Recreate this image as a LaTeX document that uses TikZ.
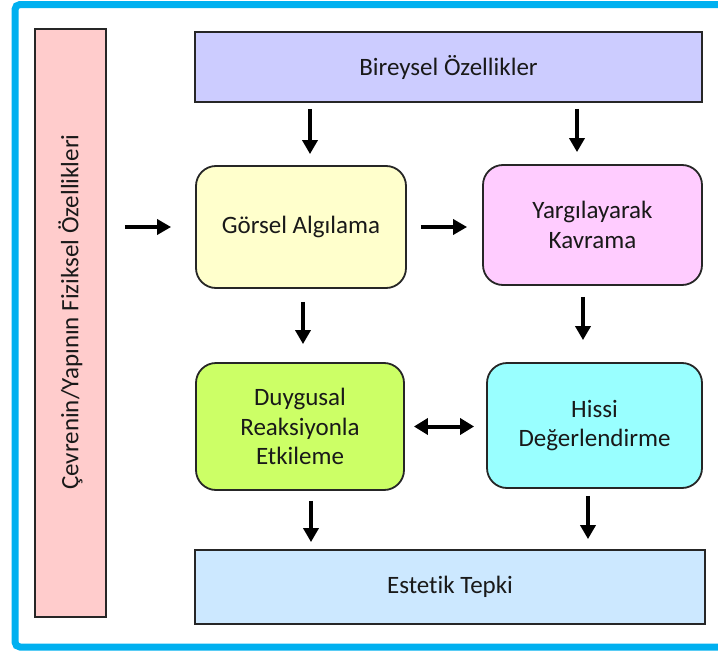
\documentclass[tikz,border=0pt]{standalone}
\usepackage{fontspec}
\setmainfont{Carlito}[Ligatures=NoCommon]
\usepackage{xcolor}
\usetikzlibrary{arrows.meta}

\definecolor{frameblue}{HTML}{00B0F0}
\definecolor{envpink}{HTML}{FFCCCC}
\definecolor{indlilac}{HTML}{CCCCFF}
\definecolor{seeyellow}{HTML}{FFFFCC}
\definecolor{judgepink}{HTML}{FFCCFF}
\definecolor{emogreen}{HTML}{CCFF66}
\definecolor{sensecyan}{HTML}{99FFFF}
\definecolor{resblue}{HTML}{CCE8FF}

\begin{document}
\begin{tikzpicture}[
    x=1pt, y=-1pt,
    block/.style={rectangle, draw=black!85, line width=1.8pt, rounded corners=20pt, align=center, inner sep=0pt, text=black!90, font=\fontsize{25}{29.5}\selectfont},
    layer/.style={rectangle, draw=black!85, line width=1.8pt, align=center, inner sep=0pt, text=black!90, font=\fontsize{25}{29.5}\selectfont},
    arrow/.style={line width=4pt, -{Triangle[width=15pt,length=14pt]}},
    twoway/.style={line width=4pt, {Triangle[width=16pt,length=14pt]}-{Triangle[width=16pt,length=14pt]}}
]
\useasboundingbox (0,0) rectangle (718,653);
\clip (0,0) rectangle (718,653);

% Frame
\draw[frameblue, line width=7pt, rounded corners=5pt] (15,4.5) rectangle (724,647);

% Left column
\node (env) [layer, fill=envpink, minimum width=71pt, minimum height=588pt] at (70.5,323) {\rotatebox{90}{\hspace{22pt}Çevrenin/Yapının Fiziksel Özellikleri}};

% Top
\node (bireysel) [layer, fill=indlilac, minimum width=507pt, minimum height=70pt] at (448.5,67) {Bireysel Özellikler};

% Perception
\node (gorsel) [block, fill=seeyellow, minimum width=210pt, minimum height=122pt] at (301,227) {Görsel Algılama};
\node (yargi) [block, fill=judgepink, minimum width=219pt, minimum height=120pt] at (592.5,225) {Yargılayarak\\Kavrama};

\draw [arrow, shorten <=6pt, shorten >=11pt] ([xshift=9pt]gorsel.north |- bireysel.south) -- ([xshift=9pt]gorsel.north);
\draw [arrow, shorten <=6pt, shorten >=12pt] ([xshift=-15.5pt]yargi.north |- bireysel.south) -- ([xshift=-15.5pt]yargi.north);
\draw [arrow, shorten <=18pt, shorten >=24pt] (env.east |- gorsel.west) -- (gorsel.west);
\draw [arrow, shorten <=14pt, shorten >=15pt] (gorsel.east) -- (yargi.west |- gorsel.east);

% Evaluation
\node (duygusal) [block, fill=emogreen, minimum width=208pt, minimum height=127pt] at (300,426.5) {Duygusal\\Reaksiyonla\\Etkileme};
\node (hissi) [block, fill=sensecyan, minimum width=215pt, minimum height=125pt] at (594.5,425.5) {Hissi\\Değerlendirme};

\draw [arrow, shorten <=13pt, shorten >=18pt] ([xshift=2pt]gorsel.south) -- ([xshift=2pt]gorsel.south |- duygusal.north);
\draw [arrow, shorten <=11pt, shorten >=22pt] ([xshift=-9.5pt]yargi.south) -- ([xshift=-9.5pt]yargi.south |- hissi.north);
\draw [twoway, shorten <=9pt, shorten >=12pt] (duygusal.east) -- (hissi.west |- duygusal.east);

% Output
\node (estetik) [layer, fill=resblue, minimum width=510pt, minimum height=74pt] at (450,587) {Estetik Tepki};

\draw [arrow, shorten <=10pt, shorten >=7pt] ([xshift=11pt]duygusal.south) -- ([xshift=11pt]duygusal.south |- estetik.north);
\draw [arrow, shorten <=7pt, shorten >=10pt] ([xshift=-6.5pt]hissi.south) -- ([xshift=-6.5pt]hissi.south |- estetik.north);

\end{tikzpicture}
\end{document}
